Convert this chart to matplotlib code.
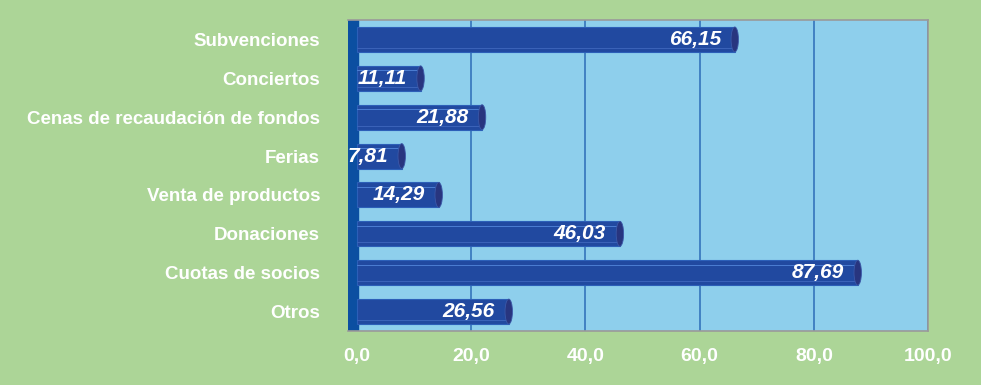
import matplotlib.pyplot as plt
from matplotlib.patches import Ellipse

# data
categories = ['Subvenciones', 'Conciertos', 'Cenas de recaudación de fondos', 'Ferias',
              'Venta de productos', 'Donaciones', 'Cuotas de socios', 'Otros']
values = [66.15, 11.11, 21.88, 7.81, 14.29, 46.03, 87.69, 26.56]
value_labels = ['66,15', '11,11', '21,88', '7,81', '14,29', '46,03', '87,69', '26,56']
xticks = [0, 20, 40, 60, 80, 100]
xtick_labels = ['0,0', '20,0', '40,0', '60,0', '80,0', '100,0']

bg_green = '#acd597'
plot_blue = '#8ecfec'
bar_blue = '#2149a0'
bar_dark = '#28357f'
grid_blue = '#2d6cb7'
wall_blue = '#0b4fa1'

plt.rcParams['font.family'] = ['Liberation Sans', 'DejaVu Sans']

fig = plt.figure(figsize=(9.81, 3.85), dpi=100, facecolor=bg_green)
ax = fig.add_axes([348 / 981, 1 - 331 / 385, 580 / 981, 311 / 385])
ax.set_facecolor(plot_blue)

ax.set_xlim(-1.6, 100)
ax.set_ylim(len(categories) - 0.5, -0.5)

# left wall
ax.axvspan(-1.6, 0.2, color=wall_blue, zorder=1)

for x in xticks[1:]:
    ax.axvline(x, color=grid_blue, lw=1.1, zorder=1)

ypos = list(range(len(categories)))
h = 0.64
ax.barh(ypos, values, height=h, color=bar_blue, edgecolor='#2c5fb8', lw=0.8, zorder=3)
# light stripes to fake the cylinder
ax.barh([y - h * 0.3 for y in ypos], values, height=0.02, color='#4a7bd0', lw=0, zorder=4)
ax.barh([y + h * 0.36 for y in ypos], values, height=0.02, color='#3a62b8', lw=0, zorder=4)

for y, v, lab in zip(ypos, values, value_labels):
    ax.add_patch(Ellipse((v, y), 1.3, h, facecolor=bar_dark, edgecolor='#3b58a8', lw=0.6, zorder=5))
    ax.annotate(lab, (v, y), xytext=(-10, 0), textcoords='offset points',
                ha='right', va='center', color='white', fontsize=15,
                fontweight='bold', fontstyle='italic', zorder=6)

ax.set_yticks(ypos)
ax.set_yticklabels(categories, color='white', fontsize=13.5, fontweight='bold')
ax.set_xticks(xticks)
ax.set_xticklabels(xtick_labels, color='white', fontsize=14, fontweight='bold')
ax.tick_params(axis='y', length=0, pad=20)
ax.tick_params(axis='x', length=0, pad=12)

for side in ['top', 'right', 'bottom']:
    ax.spines[side].set_color('#9a9a9a')
    ax.spines[side].set_linewidth(1.2)
ax.spines['left'].set_visible(False)

fig.savefig('out.png', dpi=100, facecolor=bg_green)
